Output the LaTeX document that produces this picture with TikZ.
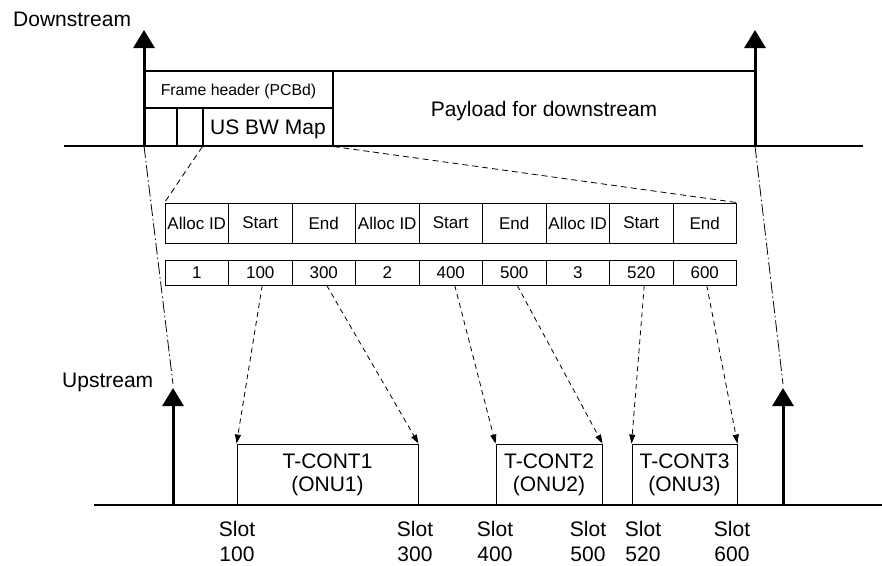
\documentclass[tikz,border=0pt]{standalone}
\usepackage{fontspec}
\setmainfont{Liberation Sans}
\usetikzlibrary{arrows.meta}
\begin{document}
\begin{tikzpicture}[x=1pt,y=-1pt,
  big/.style={font=\fontsize{21}{25}\selectfont},
  boxline/.style={draw, line width=1.1pt, inner sep=0pt, text depth=0pt},
  cellA/.style={draw, line width=0.9pt, minimum width=63.5pt, minimum height=40pt, inner sep=0pt, text depth=0pt, font=\fontsize{17}{20}\selectfont},
  cellB/.style={cellA, minimum height=25pt},
  tcont/.style={draw, line width=0.9pt, inner sep=0pt, align=center, font=\fontsize{21}{23}\selectfont},
  slotlbl/.style={align=center, inner sep=0pt, font=\fontsize{21}{25}\selectfont},
  thickarrow/.style={line width=3pt, -{Triangle[width=21pt,length=18pt]}},
  axisline/.style={line width=1.2pt},
  mapdash/.style={line width=0.8pt, dash pattern=on 6pt off 4pt},
  slotarrow/.style={line width=0.8pt, dash pattern=on 5pt off 4pt, -{Triangle[width=6pt,length=9pt]}},
  dashdotline/.style={line width=0.8pt, dash pattern=on 12pt off 3pt on 1.5pt off 3pt}]
\useasboundingbox (0,0) rectangle (882,565);

% labels
\node[big, anchor=base west, inner sep=0pt] (dslbl) at (13,26.7) {Downstream};
\node[big, anchor=base west, inner sep=0pt] (uslbl) at (62,387) {Upstream};

% downstream frame
\node[boxline, minimum width=189pt, minimum height=37pt, font=\fontsize{15.8}{18}\selectfont] (fh) at (238.5,89.5) {Frame header (PCBd)};
\node[boxline, minimum width=33pt, minimum height=38pt] (s1) at (160.5,127) {};
\node[boxline, minimum width=26pt, minimum height=38pt] (s2) at (190,127) {};
\node[boxline, minimum width=130pt, minimum height=38pt, big] (usbw) at (268,127) {US BW Map};
\node[boxline, minimum width=422pt, minimum height=75pt, big] (payload) at (544,108.5) {Payload for downstream};

% axes
\coordinate (dsA) at (64,146);
\coordinate (dsB) at (863,146);
\coordinate (usA) at (94,505);
\coordinate (usB) at (882,505);
\draw[axisline] (dsA) -- (dsB);
\draw[axisline] (usA) -- (usB);

% thick arrows
\coordinate (dl0) at (144,146);
\coordinate (dl1) at (144,30);
\coordinate (dr0) at (755,146);
\coordinate (dr1) at (755,30);
\coordinate (ul0) at (173,505);
\coordinate (ul1) at (173,388);
\coordinate (ur0) at (783,505);
\coordinate (ur1) at (783,388);
\draw[thickarrow] (dl0) -- (dl1);
\draw[thickarrow] (dr0) -- (dr1);
\draw[thickarrow] (ul0) -- (ul1);
\draw[thickarrow] (ur0) -- (ur1);

% dash-dot mapping lines
\coordinate (ulE) at (173,384);
\coordinate (urE) at (783,384);
\draw[dashdotline] (dl0) -- (ulE);
\draw[dashdotline] (dr0) -- (urE);

% table
\foreach \t [count=\i] in {Alloc ID,Start,End,Alloc ID,Start,End,Alloc ID,Start,End}
  \node[cellA] (h\i) at ({165+63.5*(\i-0.5)},223) {\t};
\foreach \t [count=\i] in {1,100,300,2,400,500,3,520,600}
  \node[cellB] (v\i) at ({165+63.5*(\i-0.5)},272.5) {\t};

% zoom lines from US BW Map
\draw[mapdash] (usbw.south west) -- (h1.north west);
\draw[mapdash] (usbw.south east) -- (h9.north east);

% T-CONT boxes
\node[tcont, minimum width=181pt, minimum height=61pt] (t1) at (327.5,474.5) {T-CONT1\\(ONU1)};
\node[tcont, minimum width=106pt, minimum height=61pt] (t2) at (549,474.5) {T-CONT2\\(ONU2)};
\node[tcont, minimum width=105pt, minimum height=61pt] (t3) at (684.5,474.5) {T-CONT3\\(ONU3)};

% slot arrows
\draw[slotarrow] ([xshift=2pt]v2.south) -- (t1.north west);
\draw[slotarrow] ([xshift=3pt]v3.south) -- (t1.north east);
\draw[slotarrow] ([xshift=4pt]v5.south) -- (t2.north west);
\draw[slotarrow] ([xshift=3pt]v6.south) -- (t2.north east);
\draw[slotarrow] ([xshift=3pt]v8.south) -- (t3.north west);
\draw[slotarrow] ([xshift=2pt]v9.south) -- (t3.north east);

% slot labels
\node[slotlbl] (sl1) at (237,541) {Slot\\100};
\node[slotlbl] (sl2) at (415,541) {Slot\\300};
\node[slotlbl] (sl3) at (495,541) {Slot\\400};
\node[slotlbl] (sl4) at (588,541) {Slot\\500};
\node[slotlbl] (sl5) at (643,541) {Slot\\520};
\node[slotlbl] (sl6) at (732,541) {Slot\\600};
\end{tikzpicture}
\end{document}
